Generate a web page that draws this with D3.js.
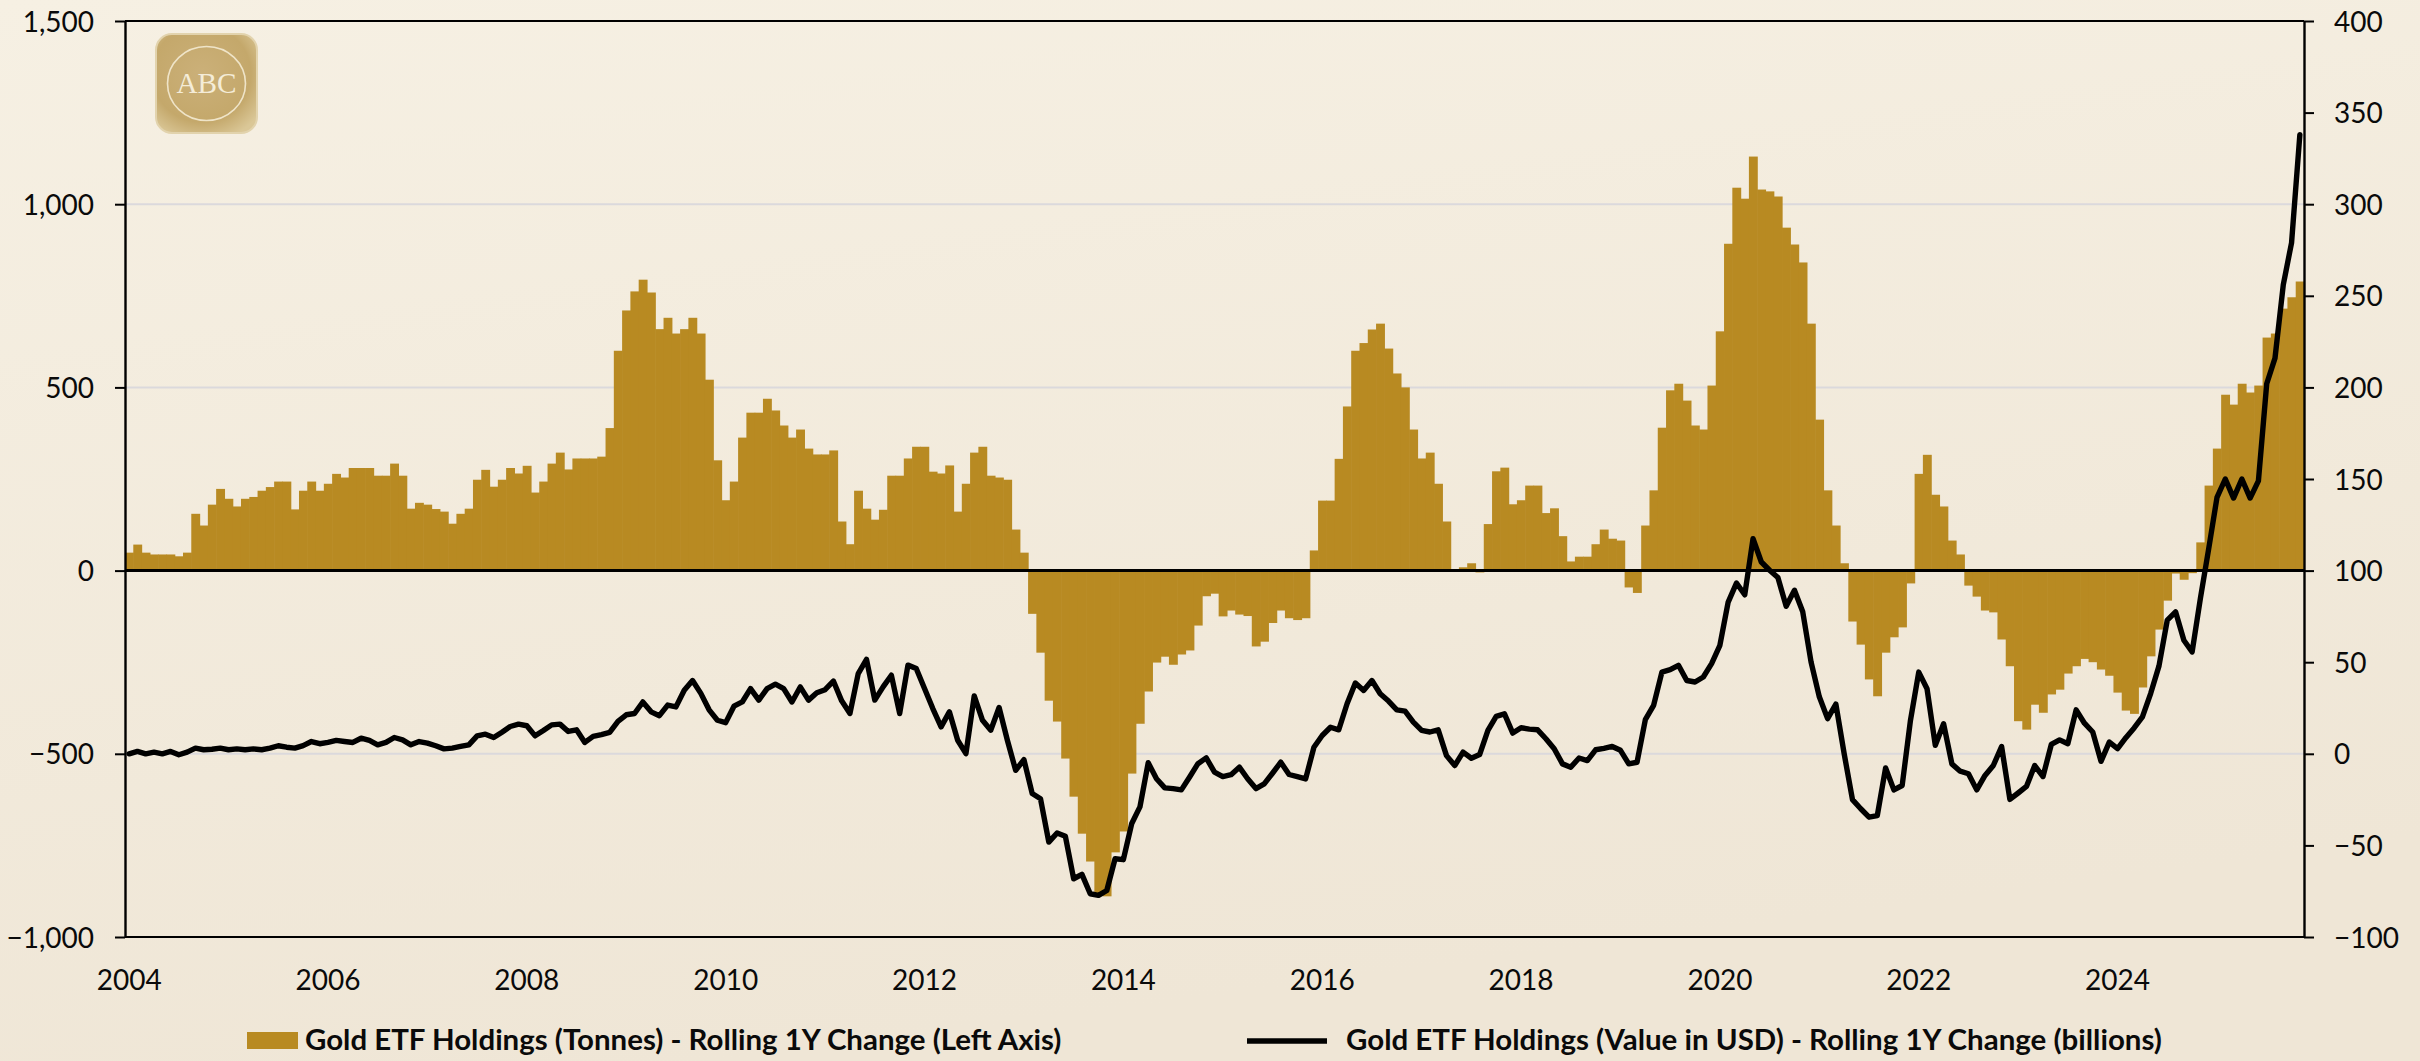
<!DOCTYPE html>
<html><head><meta charset="utf-8">
<script src="https://cdn.jsdelivr.net/npm/d3@7"></script>
<style>
html,body{margin:0;padding:0;background:#f3ecdf;}
svg{display:block;}
</style></head><body>
<svg id="chart" width="2420" height="1061"></svg>
<script>
// ---------- DATA ----------
const firstMonth = new Date(2004, 0, 1);
const lastMonth = new Date(2025, 10, 1); // Nov 2025

// Gold ETF Holdings (Tonnes) - Rolling 1Y Change (left axis)
const tonnesChange = [
  49,71,49,44,44,44,39,49,155,123,
  180,223,196,175,196,201,218,228,243,243,
  167,218,243,218,237,264,254,280,280,280,
  259,259,292,259,169,185,180,168,161,128,
  155,169,248,275,229,248,280,265,286,213,
  243,292,322,276,306,306,306,311,389,600,
  710,762,794,759,659,690,647,659,690,647,
  521,301,192,243,363,431,431,469,437,396,
  363,385,333,317,317,328,134,72,218,169,
  139,166,259,259,306,338,338,270,265,287,
  161,237,322,338,259,254,248,112,49,-118,
  -224,-355,-412,-513,-617,-718,-794,-880,-889,-769,
  -712,-554,-418,-330,-251,-235,-257,-229,-218,-150,
  -70,-63,-125,-109,-120,-124,-207,-194,-143,-109,
  -130,-135,-130,55,191,191,305,448,600,621,
  658,674,606,538,500,385,306,322,237,134,
  0,9,20,-5,127,271,281,181,192,232,
  232,157,170,94,25,38,38,72,112,87,
  82,-46,-61,123,219,390,492,510,464,396,
  385,505,653,892,1045,1015,1130,1040,1035,1021,
  936,890,841,674,412,219,123,20,-139,-202,
  -297,-343,-224,-182,-155,-35,264,316,207,175,
  82,44,-41,-71,-109,-114,-188,-261,-411,-434,
  -366,-388,-338,-325,-281,-261,-241,-250,-270,-287,
  -333,-382,-391,-319,-234,-161,-82,-8,-25,-7,
  77,232,333,480,453,510,486,505,636,647,715,746,789
];

// Gold ETF Holdings (Value in USD) - Rolling 1Y Change, billions (right axis)
const usdChange = [
  0,1.3,0,0.9,0,1.3,-0.5,0.9,3.1,2.2,
  2.5,3.1,2.2,2.7,2.2,2.7,2.2,3.1,4.4,3.6,
  3.1,4.5,6.7,5.5,6.2,7.3,6.7,6.2,8.5,7.3,
  4.9,6.2,8.9,7.6,4.9,6.7,5.8,4.4,2.7,3.1,
  4,4.9,9.8,10.7,8.9,11.8,14.9,16.2,15.3,9.8,
  12.7,15.8,16.2,12.2,13.1,6.2,9.5,10.5,11.7,17.7,
  21.3,22,28.3,22.9,20.8,26.6,25.6,34.7,40,33,
  24,18.3,17,26,28.3,35.6,29.3,35.6,38,35.6,
  28.3,36.5,29.3,33.3,35,39.7,28.9,22,43.8,51.5,
  29.3,36.5,42.9,22,48.4,46.6,35.6,24.7,14.7,22.9,
  7.4,0.1,31.6,18.3,12.9,25.3,7.4,-9,-3.2,-21.7,
  -24.5,-48.2,-43.2,-45,-68.2,-65.8,-76.4,-77.3,-74.6,-57.3,
  -57.8,-38.2,-29,-4.9,-13.6,-18.6,-19,-19.7,-12.7,-5.4,
  -2.2,-10,-12.4,-11.4,-7.3,-13.6,-19,-16.4,-10.6,-4.6,
  -11.3,-12.5,-13.7,3.6,10,14.5,13.1,27.3,38.6,34.6,
  40,32.8,28.8,24,23.3,17.3,12.8,11.9,13.1,-1,
  -6.4,0.9,-2.4,-0.4,12.8,20.4,21.8,11.3,14.2,13.5,
  13.1,8.2,2.8,-5.5,-7.3,-2.3,-3.7,2.2,3,4,
  1.9,-5.5,-4.6,18.6,26.4,44.6,45.9,48.3,40,39.2,
  41.9,49.2,59.2,82.8,93.2,86.8,117.4,104.7,100.2,96.2,
  80.5,89.3,77.5,50.2,31.1,19.2,27.1,0,-25,-30,
  -34.6,-33.7,-7.7,-19.7,-17.3,18.2,44.6,35.5,4.6,16.4,
  -5.5,-9.5,-10.9,-19.7,-11.8,-6.4,4,-24.9,-21.4,-17.8,
  -6.4,-12.4,5.1,7.6,5.5,24,16.7,11.9,-4.1,6.4,
  2.8,8.8,14.1,20.1,33,48,73,77.5,62,55.6,
  85,112,140,150,139.6,150,139.6,149,202,216,256,279,338
];

const leftTicks = [-1000, -500, 0, 500, 1000, 1500];
const rightTicks = [-100, -50, 0, 50, 100, 150, 200, 250, 300, 350, 400];
const yearTicks = [2004, 2006, 2008, 2010, 2012, 2014, 2016, 2018, 2020, 2022, 2024];
const legendLabels = [
  "Gold ETF Holdings (Tonnes) - Rolling 1Y Change (Left Axis)",
  "Gold ETF Holdings (Value in USD) - Rolling 1Y Change (billions)"
];
const logoText = "ABC";

// ---------- LAYOUT ----------
const W = 2420, H = 1061;
const M = {left: 125, right: 2304, top: 21, bottom: 937};
const GOLD = "#b88a22";
const FONT = "Lato, 'Open Sans', 'DejaVu Sans', sans-serif";

const months = d3.timeMonth.range(firstMonth, d3.timeMonth.offset(lastMonth, 1));
const rows = months.map((m, i) => ({m, t: tonnesChange[i], u: usdChange[i]}));

const svg = d3.select("#chart");
const defs = svg.append("defs");

// background
const bg = defs.append("linearGradient").attr("id", "bg")
  .attr("x1", 0).attr("y1", 0).attr("x2", 0.3).attr("y2", 1);
bg.append("stop").attr("offset", "0%").attr("stop-color", "#f6f0e3");
bg.append("stop").attr("offset", "100%").attr("stop-color", "#efe6d6");
svg.append("rect").attr("width", W).attr("height", H).attr("fill", "url(#bg)");

const x = d3.scaleBand().domain(months).range([M.left, M.right]).padding(0);
const yL = d3.scaleLinear().domain([-1000, 1500]).range([M.bottom, M.top]);
const yR = d3.scaleLinear().domain([-100, 400]).range([M.bottom, M.top]);
const bw = x.bandwidth();

// gridlines
svg.append("g").selectAll("line")
  .data(leftTicks.filter(v => v !== 0 && v !== -1000 && v !== 1500))
  .join("line")
  .attr("x1", M.left).attr("x2", M.right)
  .attr("y1", d => yL(d)).attr("y2", d => yL(d))
  .attr("stroke", "#dbd9dc").attr("stroke-width", 2);

// bars
svg.append("g").selectAll("rect").data(rows).join("rect")
  .attr("x", d => x(d.m))
  .attr("width", bw + 0.6)
  .attr("y", d => Math.min(yL(d.t), yL(0)))
  .attr("height", d => Math.abs(yL(d.t) - yL(0)))
  .attr("fill", GOLD);

// zero line
svg.append("line")
  .attr("x1", M.left).attr("x2", M.right)
  .attr("y1", yL(0)).attr("y2", yL(0))
  .attr("stroke", "#000").attr("stroke-width", 3);

// frame: top and bottom lines
svg.append("line").attr("x1", M.left).attr("x2", M.right)
  .attr("y1", M.top).attr("y2", M.top).attr("stroke", "#000").attr("stroke-width", 2.2);
svg.append("line").attr("x1", M.left).attr("x2", M.right)
  .attr("y1", M.bottom).attr("y2", M.bottom).attr("stroke", "#000").attr("stroke-width", 2.2);

// left axis
const gL = svg.append("g").attr("transform", `translate(${M.left},0)`)
  .call(d3.axisLeft(yL).tickValues(leftTicks).tickFormat(d3.format(","))
    .tickSize(10).tickSizeOuter(0).tickPadding(21));
// right axis
const gR = svg.append("g").attr("transform", `translate(${M.right},0)`)
  .call(d3.axisRight(yR).tickValues(rightTicks).tickFormat(d3.format("d"))
    .tickSize(10).tickSizeOuter(0).tickPadding(20));
[gL, gR].forEach(g => {
  g.select(".domain").attr("stroke", "#000").attr("stroke-width", 2.4);
  g.selectAll(".tick line").attr("stroke", "#000").attr("stroke-width", 2);
  g.selectAll(".tick text").attr("font-family", FONT).attr("font-size", 28)
    .attr("fill", "#0a0a0a").attr("dy", "0.36em");
});

// bottom axis (year labels)
const janMonths = yearTicks.map(yr => months.find(m => m.getFullYear() === yr && m.getMonth() === 0));
const gB = svg.append("g").attr("transform", `translate(0,${M.bottom})`)
  .call(d3.axisBottom(x).tickValues(janMonths).tickFormat(d3.timeFormat("%Y"))
    .tickSize(0).tickPadding(33));
gB.select(".domain").remove();
gB.selectAll(".tick text").attr("font-family", FONT).attr("font-size", 28).attr("fill", "#0a0a0a");

// line series
const line = d3.line().x(d => x(d.m) + bw / 2).y(d => yR(d.u)).curve(d3.curveLinear);
svg.append("path").datum(rows)
  .attr("d", line)
  .attr("fill", "none").attr("stroke", "#000").attr("stroke-width", 5.4)
  .attr("stroke-linejoin", "round").attr("stroke-linecap", "round");

// logo
const lg = defs.append("radialGradient").attr("id", "logoGrad").attr("cx", "45%").attr("cy", "40%").attr("r", "70%");
lg.append("stop").attr("offset", "0%").attr("stop-color", "#cbb079");
lg.append("stop").attr("offset", "70%").attr("stop-color", "#c4a86b");
lg.append("stop").attr("offset", "100%").attr("stop-color", "#dac797");
const logo = svg.append("g");
logo.append("rect").attr("x", 156).attr("y", 34).attr("width", 101).attr("height", 99)
  .attr("rx", 16).attr("fill", "url(#logoGrad)").attr("stroke", "#e2d3ad").attr("stroke-width", 2);
logo.append("ellipse").attr("cx", 206.5).attr("cy", 83.5).attr("rx", 39).attr("ry", 37)
  .attr("fill", "none").attr("stroke", "#efe4c8").attr("stroke-width", 1.6);
logo.append("text").attr("x", 206.5).attr("y", 93).attr("text-anchor", "middle")
  .attr("font-family", "'Liberation Serif', 'DejaVu Serif', serif").attr("font-size", 30)
  .attr("fill", "#f4ecd8").attr("textLength", 60).attr("lengthAdjust", "spacingAndGlyphs")
  .text(logoText);

// legend
function fitText(sel, target) {
  const len = sel.node().getComputedTextLength();
  const fs = parseFloat(sel.attr("font-size"));
  sel.attr("font-size", fs * target / len);
}
const leg = svg.append("g");
leg.append("rect").attr("x", 247).attr("y", 1032).attr("width", 51).attr("height", 17).attr("fill", GOLD);
const t1 = leg.append("text").attr("x", 305).attr("y", 1050)
  .attr("font-family", FONT).attr("font-weight", "bold").attr("font-size", 26)
  .attr("fill", "#0a0a0a").text(legendLabels[0]);
fitText(t1, 757);
leg.append("line").attr("x1", 1247).attr("x2", 1327).attr("y1", 1041).attr("y2", 1041)
  .attr("stroke", "#000").attr("stroke-width", 5.4);
const t2 = leg.append("text").attr("x", 1346).attr("y", 1050)
  .attr("font-family", FONT).attr("font-weight", "bold").attr("font-size", 26)
  .attr("fill", "#0a0a0a").text(legendLabels[1]);
fitText(t2, 816);
</script>
</body></html>
